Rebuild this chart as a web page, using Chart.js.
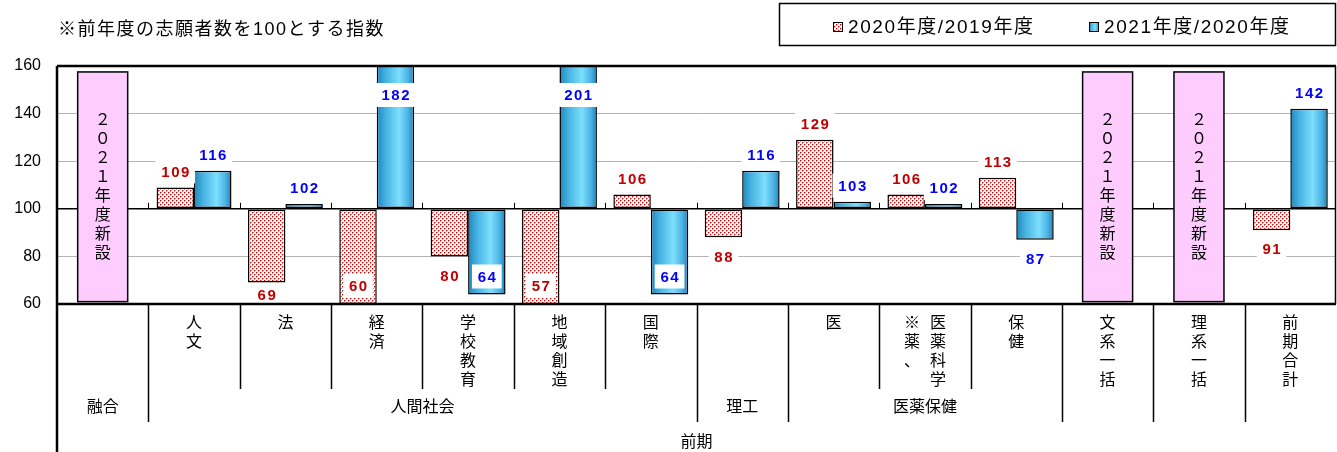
<!DOCTYPE html>
<html lang="ja">
<head>
<meta charset="utf-8">
<script src="https://cdn.jsdelivr.net/npm/chart.js@4.4.1/dist/chart.umd.min.js"></script>
<style>
body{margin:0;background:#fff;}
#wrap{width:1337px;height:452px;position:relative;}
</style>
</head>
<body>
<div id="wrap"><canvas id="indexChart"></canvas></div>
<script>
/* ==========================================
   DATA
========================================== */

const CATEGORIES = ["融合","人文","法","経済","学校教育","地域創造","国際","理工","医","医薬科学","保健","文系一括","理系一括","前期合計"];

// vertical labels in the first row under the plot
const COLUMN_LABELS = ["","人文","法","経済","学校教育","地域創造","国際","","医","医薬科学","保健","文系一括","理系一括","前期合計"];
const COLUMN_NOTES = ["","","","","","","","","","※薬、","","","",""];

// second row: [label, first column, last column]
const GROUPS = [["融合",0,0],["人間社会",1,6],["理工",7,7],["医薬保健",8,10],["",11,11],["",12,12],["",13,13]];
const PERIOD = "前期";

const SERIES_NAMES = ["2020年度/2019年度","2021年度/2020年度"];
const RATIO_2020 = [null,109,69,60,80,57,106,88,129,106,113,null,null,91];
const RATIO_2021 = [null,116,102,182,64,201,64,116,103,102,87,null,null,142];

const NEW_COLUMNS = [true,false,false,false,false,false,false,false,false,false,false,true,true,false];
const NEW_TEXT = "２０２１年度新設";

const Y_TICKS = [60,80,100,120,140,160];
const BASE = 100;

const TITLE = "※前年度の志願者数を100とする指数";


/* ==========================================
   STYLE HELPERS
========================================== */

const CAT_PCT = 0.82;
const JP_FONT = "'Liberation Sans','Noto Sans CJK JP',sans-serif";

function dotPattern(){

    const c = document.createElement("canvas");
    c.width = 4; c.height = 4;
    const p = c.getContext("2d");
    p.fillStyle = "#fff6f6";
    p.fillRect(0,0,4,4);
    p.fillStyle = "#e48888";
    p.fillRect(1,0,1,1);
    p.fillRect(0,1,1,1);
    p.fillRect(3,2,1,1);
    p.fillRect(2,3,1,1);
    p.fillStyle = "#c01010";
    p.fillRect(0,0,1,1);
    p.fillRect(2,2,1,1);
    return p.createPattern(c,"repeat");

}

const RED_FILL = dotPattern();

function blueGradient(ctx,left,right){

    const g = ctx.createLinearGradient(left,0,right,0);
    g.addColorStop(0,"#1f86bd");
    g.addColorStop(0.25,"#47b4e2");
    g.addColorStop(0.6,"#7edefd");
    g.addColorStop(0.85,"#48b0e2");
    g.addColorStop(1,"#1b7fb6");
    return g;

}

function blueFill(context){

    const chart = context.chart;
    if(!chart.chartArea || context.dataIndex === undefined){
        return "#4bb8e8";
    }
    const x = chart.scales.x;
    const col = x.getPixelForValue(1) - x.getPixelForValue(0);
    const w = col * CAT_PCT / 2;
    const left = x.getPixelForValue(context.dataIndex);
    return blueGradient(chart.ctx,left,left + w);

}


/* ==========================================
   PLUGINS
========================================== */

const newColumnBoxes = {

    id:"newColumnBoxes",

    beforeDatasetsDraw(chart){

        const {ctx} = chart;
        const x = chart.scales.x, y = chart.scales.y;
        const top = y.getPixelForValue(157.5);
        const bottom = y.getPixelForValue(61);
        ctx.save();
        NEW_COLUMNS.forEach((isNew,i)=>{
            if(!isNew) return;
            const cx = x.getPixelForValue(i);
            ctx.fillStyle = "#ffccff";
            ctx.fillRect(cx - 25,top,50,bottom - top);
            ctx.strokeStyle = "#000";
            ctx.lineWidth = 1.5;
            ctx.strokeRect(cx - 25,top,50,bottom - top);
            ctx.fillStyle = "#000";
            ctx.font = "16px " + JP_FONT;
            ctx.textAlign = "center";
            ctx.textBaseline = "middle";
            const chars = [...NEW_TEXT];
            const pitch = 19;
            const start = (top + bottom) / 2 - (chars.length - 1) * pitch / 2;
            chars.forEach((ch,k)=>ctx.fillText(ch,cx,start + k * pitch));
        });

        // small tick marks on the 100 line
        const y100 = y.getPixelForValue(BASE);
        ctx.strokeStyle = "#000";
        ctx.lineWidth = 1;
        for(let i = 0;i < CATEGORIES.length - 1;i++){
            const bx = Math.round((x.getPixelForValue(i) + x.getPixelForValue(i + 1)) / 2) + 0.5;
            ctx.beginPath();
            ctx.moveTo(bx,y100);
            ctx.lineTo(bx,y100 - 6);
            ctx.stroke();
        }
        ctx.restore();

    }

};

const valueLabels = {

    id:"valueLabels",

    afterDatasetsDraw(chart){

        const {ctx,chartArea:a} = chart;
        const colors = ["#c00000","#0000ff"];
        ctx.save();
        ctx.font = "bold 15px 'Liberation Sans',Arial,sans-serif";
        ctx.letterSpacing = "1.5px";
        ctx.textAlign = "center";
        ctx.textBaseline = "middle";
        chart.data.datasets.forEach((ds,di)=>{
            const meta = chart.getDatasetMeta(di);
            meta.data.forEach((bar,i)=>{
                const v = ds.data[i];
                if(v == null) return;
                let ly;
                if(bar.y < a.top) ly = a.top + 29;
                else if(v >= BASE) ly = bar.y - 16;
                else if(v < 66) ly = Math.min(bar.y,a.bottom) - 18;
                else ly = Math.min(bar.y + 19,a.bottom - 9);
                const txt = String(v);
                const tw = ctx.measureText(txt).width;
                ctx.fillStyle = "#fff";
                ctx.fillRect(bar.x - tw / 2 - 5,ly - 12,tw + 10,24);
                ctx.fillStyle = colors[di];
                ctx.fillText(txt,bar.x + 0.75,ly + 1);
            });
        });
        ctx.restore();

    }

};

const plotFrame = {

    id:"plotFrame",

    afterDatasetsDraw(chart){

        const {ctx,chartArea:a} = chart;
        ctx.save();
        ctx.strokeStyle = "#000";
        ctx.lineWidth = 2.5;
        ctx.beginPath();
        ctx.moveTo(a.left,a.top);
        ctx.lineTo(a.right,a.top);
        ctx.moveTo(a.left,a.bottom);
        ctx.lineTo(a.right,a.bottom);
        ctx.moveTo(a.left,a.top);
        ctx.lineTo(a.left,chart.height);
        ctx.stroke();
        ctx.lineWidth = 1.5;
        ctx.beginPath();
        ctx.moveTo(a.right - 0.5,a.top);
        ctx.lineTo(a.right - 0.5,a.bottom);
        ctx.stroke();
        ctx.restore();

    }

};

const headerAndTable = {

    id:"headerAndTable",

    afterDraw(chart){

        const {ctx,chartArea:a} = chart;
        const x = chart.scales.x;
        const col = x.getPixelForValue(1) - x.getPixelForValue(0);
        const edge = i => a.left + i * col;
        ctx.save();

        // title
        ctx.fillStyle = "#000";
        ctx.font = "18px " + JP_FONT;
        ctx.letterSpacing = "1.5px";
        ctx.textAlign = "left";
        ctx.textBaseline = "middle";
        ctx.fillText(TITLE,58,30);

        // legend box
        ctx.strokeStyle = "#000";
        ctx.lineWidth = 1.5;
        ctx.strokeRect(779.5,3.5,556,42);
        const items = [[833,RED_FILL],[1089,null]];
        ctx.font = "19px " + JP_FONT;
        ctx.letterSpacing = "1.6px";
        items.forEach(([lx,fill],k)=>{
            ctx.fillStyle = fill || blueGradient(ctx,lx,lx + 10);
            ctx.fillRect(lx,22,10,10);
            ctx.lineWidth = 1;
            ctx.strokeStyle = "#000";
            ctx.strokeRect(lx + 0.5,22.5,9,9);
            ctx.fillStyle = "#000";
            ctx.fillText(SERIES_NAMES[k],lx + 15,28);
        });
        ctx.letterSpacing = "0px";

        // first row: vertical labels
        const row1 = a.bottom + 85;
        const row2 = row1 + 33;
        ctx.lineWidth = 1.5;
        ctx.beginPath();
        for(let i = 1;i < CATEGORIES.length;i++){
            const ex = Math.round(edge(i)) + 0.5;
            ctx.moveTo(ex,a.bottom);
            ctx.lineTo(ex,row1);
        }
        GROUPS.forEach(g=>{
            if(g[1] === 0) return;
            const ex = Math.round(edge(g[1])) + 0.5;
            ctx.moveTo(ex,row1);
            ctx.lineTo(ex,row2);
        });
        ctx.stroke();

        ctx.font = "16px " + JP_FONT;
        ctx.textAlign = "center";
        const pitch = 19;
        COLUMN_LABELS.forEach((lab,i)=>{
            const cx = x.getPixelForValue(i);
            const note = COLUMN_NOTES[i];
            const lx = note ? cx + 13 : cx;
            [...lab].forEach((ch,k)=>ctx.fillText(ch,lx,a.bottom + 20 + k * pitch));
            if(note){
                [...note].forEach((ch,k)=>ctx.fillText(ch,cx - 13,a.bottom + 20 + k * pitch));
            }
        });

        // second row: groups
        GROUPS.forEach(g=>{
            if(!g[0]) return;
            const cx = (edge(g[1]) + edge(g[2] + 1)) / 2;
            ctx.fillText(g[0],cx,row1 + 19);
        });

        // third row
        ctx.fillText(PERIOD,(a.left + a.right) / 2,row2 + 21);
        ctx.restore();

    }

};


/* ==========================================
   CHART
========================================== */

const canvas = document.getElementById("indexChart");

new Chart(canvas,{

    type:"bar",

    data:{

        labels:CATEGORIES,

        datasets:[

            {
                label:SERIES_NAMES[0],
                data:RATIO_2020,
                base:BASE,
                backgroundColor:RED_FILL,
                borderColor:"#000",
                borderWidth:1.5,
                borderSkipped:false,
                clip:0
            },

            {
                label:SERIES_NAMES[1],
                data:RATIO_2021,
                base:BASE,
                backgroundColor:blueFill,
                borderColor:"#000",
                borderWidth:1.5,
                borderSkipped:false,
                clip:0
            }

        ]

    },

    options:{

        responsive:true,
        maintainAspectRatio:false,
        animation:false,
        categoryPercentage:CAT_PCT,
        barPercentage:1,

        layout:{
            padding:{top:66,bottom:148,left:0,right:1}
        },

        plugins:{
            legend:{display:false},
            tooltip:{enabled:false}
        },

        scales:{

            x:{
                display:false
            },

            y:{
                min:Y_TICKS[0],
                max:Y_TICKS[Y_TICKS.length - 1],
                afterFit(scale){ scale.width = 57; },
                afterBuildTicks(scale){
                    scale.ticks = Y_TICKS.map(v=>({value:v}));
                },
                border:{display:false},
                grid:{
                    drawTicks:false,
                    color:c=>c.tick && c.tick.value === BASE ? "#000" : "#b4b4b4",
                    lineWidth:c=>c.tick && c.tick.value === BASE ? 1.5 : 1
                },
                ticks:{
                    padding:16,
                    color:"#000",
                    font:{size:16,family:"'Liberation Sans',Arial,sans-serif"}
                }
            }

        }

    },

    plugins:[newColumnBoxes,valueLabels,plotFrame,headerAndTable]

});
</script>
</body>
</html>
